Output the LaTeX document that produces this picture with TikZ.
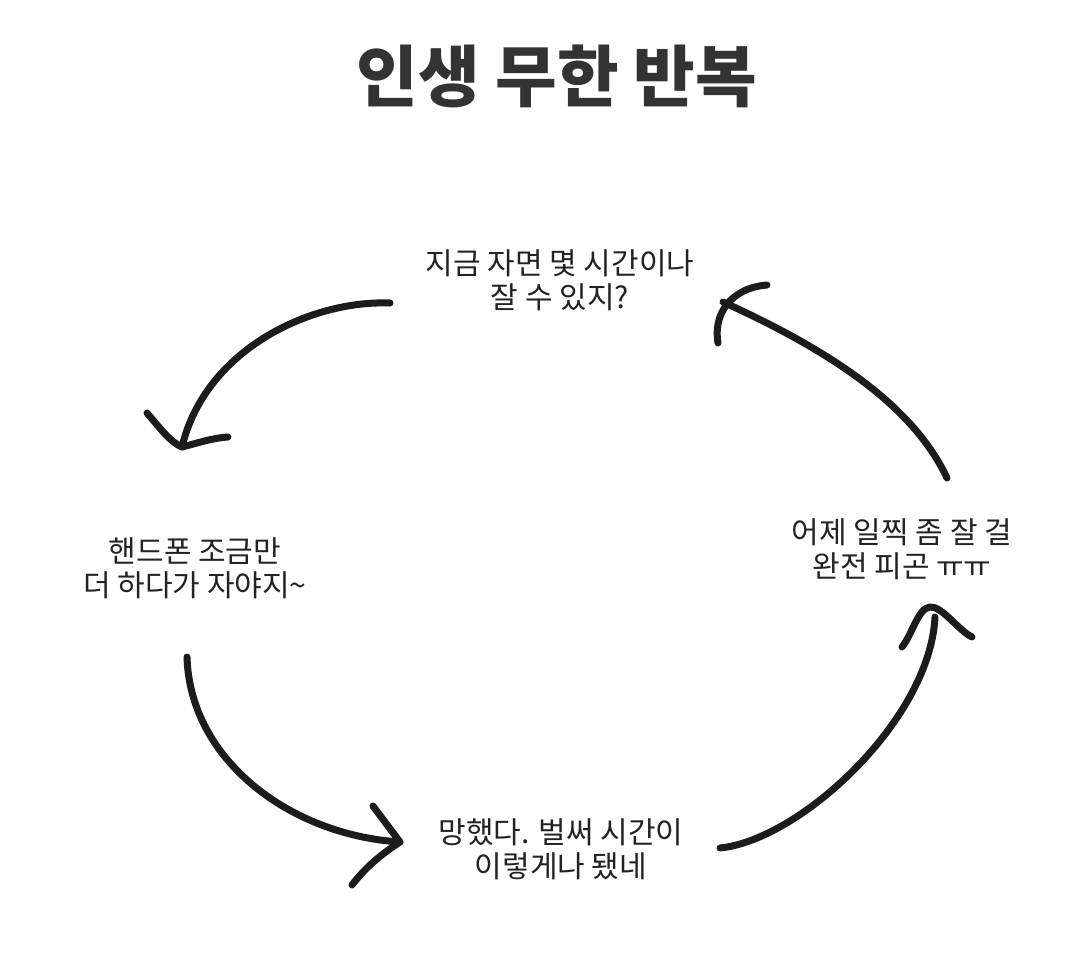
\documentclass[tikz,border=0pt]{standalone}
\usepackage{fontspec}
\newfontfamily\cjk{Noto Sans CJK KR}
\definecolor{ink}{HTML}{1C1C1C}
\definecolor{txt}{HTML}{222222}
\definecolor{ttl}{HTML}{333333}
\begin{document}
\begin{tikzpicture}[x=1pt,y=-1pt,
  label/.style={align=center,text=txt,inner sep=0pt,font=\cjk\fontsize{30}{34}\selectfont},
  titlestyle/.style={text=ttl,inner sep=0pt,font=\cjk\bfseries\fontsize{67}{72}\selectfont},
  stroke/.style={draw=ink,line width=7pt,line cap=round,line join=round}]
\useasboundingbox[fill=white] (0,0) rectangle (1080,970);
\node[titlestyle] (title) at (557,76) {인생 무한 반복};
\node[label] (top) at (560,280) {지금 자면 몇 시간이나\\잘 수 있지?};
\node[label] (left) at (195,568) {핸드폰 조금만\\더 하다가 자야지\textasciitilde};
\node[label] (right) at (902,549) {어제 일찍 좀 잘 걸\\완전 피곤 ㅠㅠ};
\node[label] (bottom) at (561,849) {망했다. 벌써 시간이\\이렇게나 됐네};
% arrow 1: top -> left
\coordinate (a1s) at (390,303);
\coordinate (a1t) at (182,447);
\draw[stroke] (a1s) .. controls (310,300) and (205,350) .. (a1t);
\draw[stroke] (147,413) .. controls (160,428) and (170,442) .. (a1t) .. controls (198,443) and (212,438) .. (228,437);
% arrow 2: left -> bottom
\coordinate (a2s) at (187,657);
\coordinate (a2t) at (400,842);
\draw[stroke] (a2s) .. controls (190,760) and (290,835) .. (a2t);
\draw[stroke] (373,806) -- (a2t) .. controls (380,855) and (365,868) .. (352,885);
% arrow 3: bottom -> right
\coordinate (a3s) at (720,848);
\coordinate (a3t) at (935,617);
\draw[stroke] (a3s) .. controls (800,840) and (930,720) .. (a3t);
\draw[stroke] (902,647) .. controls (912,635) and (918,608) .. (930,607) .. controls (942,606) and (958,630) .. (972,637);
% arrow 4: right -> top
\coordinate (a4s) at (947,478);
\coordinate (a4t) at (723,302);
\draw[stroke] (a4s) .. controls (915,410) and (840,355) .. (a4t);
\draw[stroke] (718,343) .. controls (713,315) and (730,288) .. (767,285);
\end{tikzpicture}
\end{document}
